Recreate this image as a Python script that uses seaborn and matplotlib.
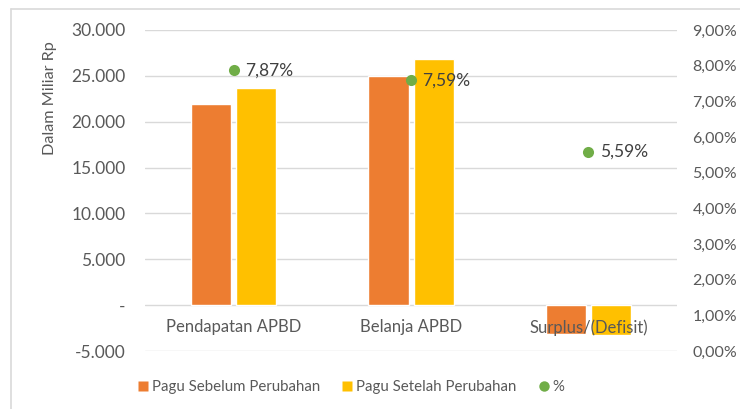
import pandas as pd
import matplotlib.pyplot as plt
import matplotlib.ticker as mticker
from matplotlib.lines import Line2D
import seaborn as sns

# data
categories = ['Pendapatan APBD', 'Belanja APBD', 'Surplus/(Defisit)']
pagu_sebelum = [21930, 24980, -3100]
pagu_setelah = [23650, 26880, -3270]
persen = [0.0787, 0.0759, 0.0559]
series_names = ['Pagu Sebelum Perubahan', 'Pagu Setelah Perubahan']
colors = ['#ED7D31', '#FFC000']
green = '#70AD47'
grey = '#595959'

sns.set_style('white')
plt.rcParams['font.family'] = ['Lato', 'DejaVu Sans']
plt.rcParams['font.size'] = 10

df = pd.DataFrame({
    'kategori': categories * 2,
    'nilai': pagu_sebelum + pagu_setelah,
    'seri': [series_names[0]] * 3 + [series_names[1]] * 3,
})

fig = plt.figure(figsize=(7.4, 4.09), dpi=100)
ax = fig.add_axes([0.196, 0.1418, 0.719, 0.785])

sns.barplot(data=df, x='kategori', y='nilai', hue='seri', palette=colors,
            width=0.51, gap=0.11, ax=ax, legend=False, saturation=1)
ax.set_ylim(-5000, 30000)
ax.set_yticks(range(-5000, 30001, 5000))
ax.yaxis.set_major_formatter(mticker.FuncFormatter(
    lambda v, p: '-' if v == 0 else f'{v:,.0f}'.replace(',', '.')))
ax.grid(axis='y', color='#D9D9D9', linewidth=1)
ax.set_axisbelow(True)
ax.xaxis.set_zorder(5)  # category labels sit over the negative bars
for s in ax.spines.values():
    s.set_visible(False)
ax.spines['bottom'].set_position(('data', 0))
ax.tick_params(axis='x', length=0, pad=10, colors=grey, labelsize=12)
ax.tick_params(axis='y', length=0, pad=14, colors=grey, labelsize=12.5)
ax.set_xlabel('')
ax.set_ylabel('')
ax.set_xlim(-0.5, 2.5)

ax2 = ax.twinx()
sns.stripplot(x=categories, y=persen, jitter=False, color=green, size=8,
              ax=ax2, zorder=5)
ax2.set_ylim(0, 0.09)
ax2.set_yticks([i / 100 for i in range(0, 10)])
ax2.yaxis.set_major_formatter(mticker.FuncFormatter(
    lambda v, p: f'{v * 100:.2f}%'.replace('.', ',')))
ax2.tick_params(axis='y', length=0, pad=11, colors=grey, labelsize=11.5)
for s in ax2.spines.values():
    s.set_visible(False)
ax2.set_xlim(-0.5, 2.5)
for i, p in enumerate(persen):
    ax2.annotate(f'{p * 100:.2f}%'.replace('.', ','), (i, p), xytext=(8, 0),
                 textcoords='offset points', va='center', ha='left',
                 color='#404040', fontsize=12.5)

fig.text(50 / 740, 1 - 98 / 409, 'Dalam Miliar Rp', rotation=90,
         ha='center', va='center', color=grey, fontsize=11.7)

handles = [
    Line2D([], [], marker='s', color='none', markerfacecolor=colors[0],
           markeredgecolor='none', markersize=7),
    Line2D([], [], marker='s', color='none', markerfacecolor=colors[1],
           markeredgecolor='none', markersize=7),
    Line2D([], [], marker='o', color='none', markerfacecolor=green,
           markeredgecolor='none', markersize=7.5),
]
leg = fig.legend(handles, series_names + ['%'], loc='center',
                 bbox_to_anchor=(0.473, 0.054), ncol=3, frameon=False,
                 handletextpad=0.1, columnspacing=1.3, handlelength=1.0,
                 fontsize=10.8)
for t in leg.get_texts():
    t.set_color(grey)

# chart frame edges
fig.add_artist(Line2D([11 / 740, 1], [1 - 9 / 409] * 2, color='#D9D9D9', lw=1.2))
fig.add_artist(Line2D([11 / 740] * 2, [0, 1 - 9 / 409], color='#D9D9D9', lw=1.2))

fig.savefig('out.png', dpi=100)
